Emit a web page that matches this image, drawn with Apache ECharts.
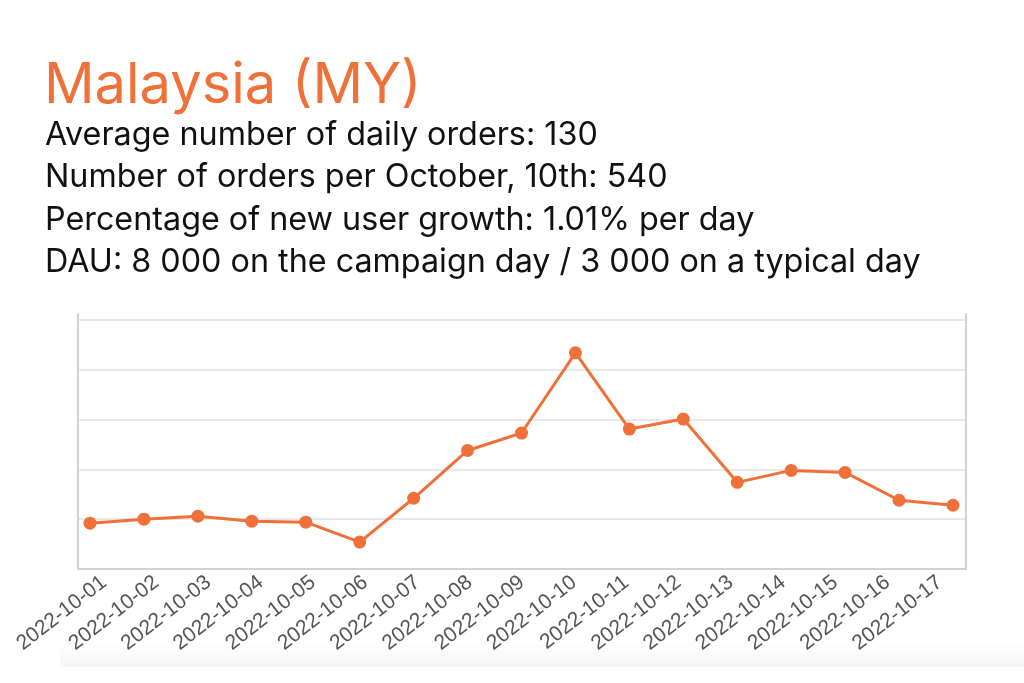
<!DOCTYPE html>
<html lang="en">
<head>
    <meta charset="utf-8">
    <title>Malaysia (MY)</title>
    <script src="https://cdn.jsdelivr.net/npm/echarts@6/dist/echarts.min.js"></script>
    <style>
        html,
        body,
        #main {
            width: 100%;
            height: 100%;
            margin: 0;
            padding: 0;
            overflow: hidden;
            background-color: #ffffff;
        }
    </style>
</head>
<body>
<div id="main"></div>
<script>
    // texts
    var titleText = 'Malaysia (MY)';
    var infoLines = [
        'Average number of daily orders: 130',
        'Number of orders per October, 10th: 540',
        'Percentage of new user growth: 1.01% per day',
        'DAU: 8 000 on the campaign day / 3 000 on a typical day'
    ];

    // data
    var dates = ['2022-10-01', '2022-10-02', '2022-10-03', '2022-10-04', '2022-10-05', '2022-10-06',
        '2022-10-07', '2022-10-08', '2022-10-09', '2022-10-10', '2022-10-11', '2022-10-12',
        '2022-10-13', '2022-10-14', '2022-10-15', '2022-10-16', '2022-10-17'];
    var orders = [92, 100, 106, 96, 94, 54, 142, 238, 273, 434, 281, 301, 174, 198, 194, 138, 128];

    var yMin = 0;
    var yMax = 512;
    var yStep = 100;

    var orange = '#EF7139';
    var frameColor = '#d2d2d2';

    var chart = echarts.init(document.getElementById('main'));
    var option = {
        animation: false,
        title: [
            {
                text: titleText,
                left: 44,
                top: 55,
                padding: 0,
                textStyle: {fontFamily: 'Inter', fontSize: 56, fontWeight: 'normal', color: orange, lineHeight: 62}
            },
            {
                text: infoLines.join('\n'),
                left: 45,
                top: 114,
                padding: 0,
                textStyle: {fontFamily: 'Inter', fontSize: 32.3, fontWeight: 'normal', color: '#111111', lineHeight: 42.5}
            }
        ],
        grid: [
            {left: 78, right: 58, top: 314, bottom: 114},
            {left: 90, right: 71, top: 314, bottom: 114}
        ],
        xAxis: [
            {
                type: 'category',
                gridIndex: 0,
                data: dates,
                boundaryGap: true,
                axisLine: {lineStyle: {color: frameColor, width: 2}},
                axisTick: {show: false},
                axisLabel: {
                    interval: 0,
                    rotate: 38,
                    margin: 11,
                    fontSize: 21,
                    fontFamily: 'Liberation Sans',
                    color: '#555555'
                }
            },
            {type: 'category', gridIndex: 1, data: dates, boundaryGap: false, show: false}
        ],
        yAxis: [
            {
                type: 'value',
                gridIndex: 0,
                min: yMin,
                max: yMax,
                interval: yStep,
                axisLine: {show: true, lineStyle: {color: frameColor, width: 2}},
                axisTick: {show: false},
                axisLabel: {show: false},
                splitLine: {
                    showMinLine: false,
                    showMaxLine: false,
                    lineStyle: {color: '#e8e8e8', width: 2}
                }
            },
            {
                type: 'value',
                gridIndex: 0,
                position: 'right',
                min: yMin,
                max: yMax,
                interval: yStep,
                axisLine: {show: true, lineStyle: {color: frameColor, width: 2}},
                axisTick: {show: false},
                axisLabel: {show: false},
                splitLine: {show: false}
            },
            {type: 'value', gridIndex: 1, min: yMin, max: yMax, interval: yStep, show: false}
        ],
        graphic: [
            {
                type: 'rect',
                left: 60,
                top: 640,
                z: -10,
                shape: {width: 964, height: 27},
                style: {
                    fill: new echarts.graphic.LinearGradient(0, 0, 0, 1, [
                        {offset: 0, color: 'rgba(0,0,0,0)'},
                        {offset: 1, color: 'rgba(0,0,0,0.035)'}
                    ])
                }
            }
        ],
        series: [
            {
                type: 'line',
                xAxisIndex: 1,
                yAxisIndex: 2,
                data: orders,
                symbol: 'circle',
                symbolSize: 13,
                lineStyle: {color: orange, width: 3},
                itemStyle: {color: orange}
            }
        ]
    };
    chart.setOption(option);
</script>
</body>
</html>
